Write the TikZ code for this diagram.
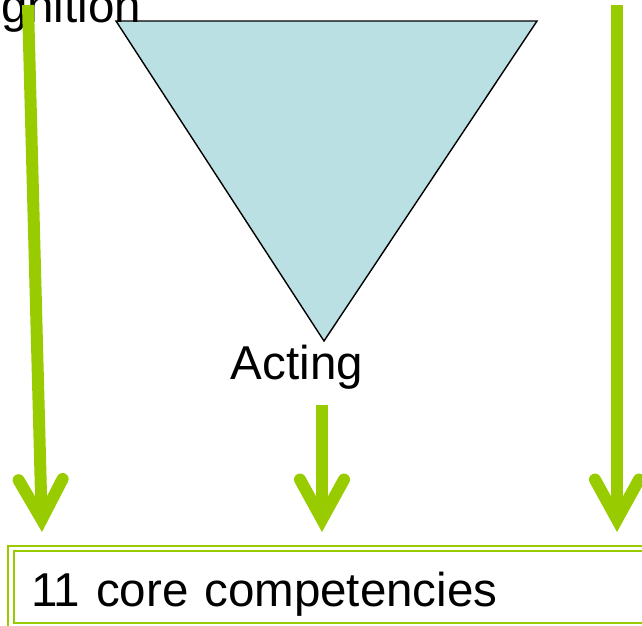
\documentclass[tikz,border=0pt]{standalone}
\usepackage{amssymb,amsfonts}
\usepackage{amsmath}
\usepackage{fontspec}
\setmainfont{Liberation Sans}
\usepackage{tikz}
\usetikzlibrary{arrows.meta}
\definecolor{leaf}{HTML}{99CC00}
\definecolor{pool}{HTML}{BBE0E3}

\begin{document}
\begin{tikzpicture}[x=1pt,y=-1pt,every node/.style={inner sep=0pt,outer sep=0pt,font=\fontsize{47.5}{57}\selectfont},
flow/.style={draw=leaf,line width=12pt,-{Straight Barb[length=40pt,width=44pt,line cap=round,line join=miter]}},
corebox/.style={draw=leaf,double=white,double distance=3.5pt,line width=2pt,anchor=north west,minimum width=650pt,text width=610pt,inner xsep=20pt,align=left,text height=45pt,text depth=7.4pt,minimum height=77pt}]
\useasboundingbox (0,0) rectangle (642,625);

\fill[pool,draw=black,line width=1.4pt,line join=miter] (116,21) -- (537,21) -- (324,341) -- cycle;

\node[anchor=base east] (cog) at (141,22) {gnition};
\node[anchor=base] (act) at (297,379) {Acting};
\node[corebox] (core) at (11,548.7) {11 core competencies};

\coordinate (l1) at (28,5);
\coordinate (l2) at (42,532);
\coordinate (m1) at (322,405);
\coordinate (m2) at (322,532);
\coordinate (r1) at (617,5);
\coordinate (r2) at (617,532);

\foreach \a/\b in {l1/l2,m1/m2,r1/r2}{
\draw[flow] (\a) -- (\b);}

\end{tikzpicture}
\end{document}
